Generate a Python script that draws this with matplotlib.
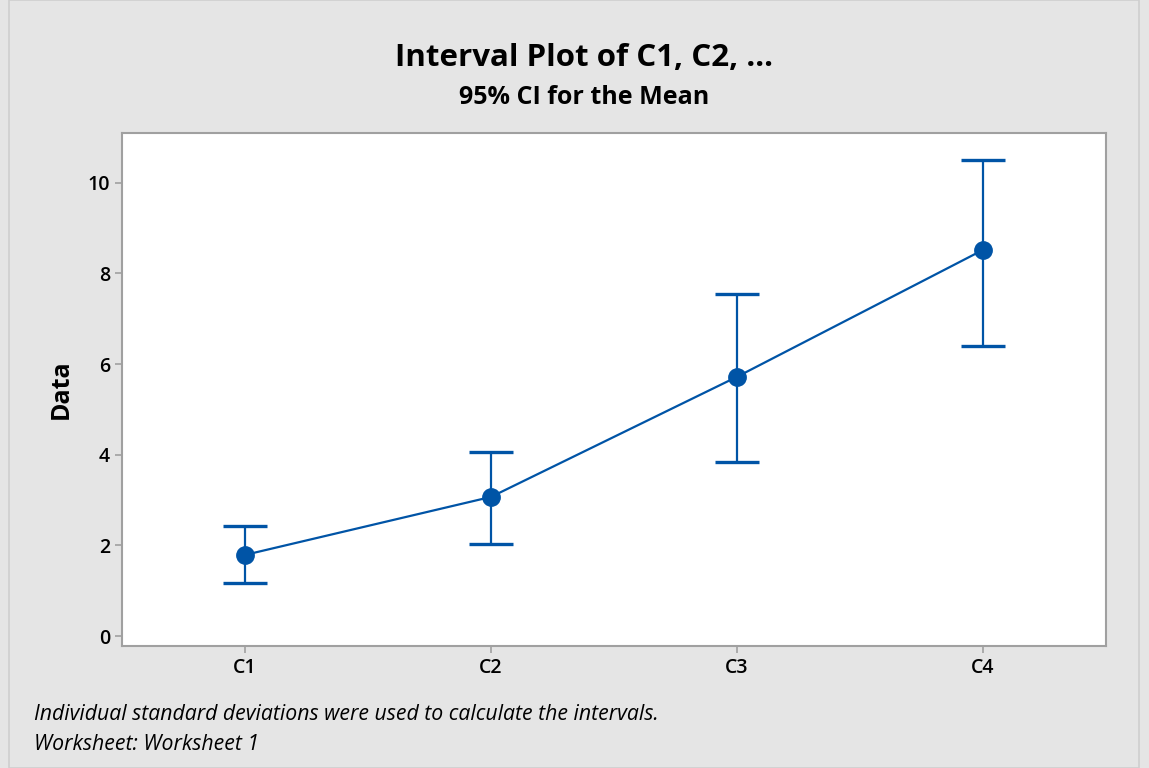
import numpy as np
import matplotlib.pyplot as plt
from matplotlib.patches import Rectangle

# values
labels = ['C1', 'C2', 'C3', 'C4']
means = [1.79, 3.07, 5.72, 8.52]
lower = [1.17, 2.03, 3.84, 6.40]
upper = [2.43, 4.06, 7.55, 10.51]

blue = '#0054A6'
gray = '#A0A0A0'

plt.rcParams['font.family'] = ['Open Sans', 'DejaVu Sans']

fig = plt.figure(figsize=(11.49, 7.68), dpi=100, facecolor='#E5E5E5')
fig.patches.append(Rectangle((9 / 1149, 0), (1139 - 9) / 1149, 1, transform=fig.transFigure,
                             fill=False, edgecolor='#CFCFCF', linewidth=1.2))

ax = fig.add_axes([122 / 1149, 1 - 646 / 768, (1106 - 122) / 1149, (646 - 133) / 768])
x = np.arange(len(labels))
m = np.array(means)
err = [m - np.array(lower), np.array(upper) - m]
ax.errorbar(x, m, yerr=err, color=blue, lw=1.6, marker='o', ms=12.5,
            capsize=16, capthick=2.4, elinewidth=1.6)

ax.set_xlim(-0.5, 3.5)
ax.set_ylim(-0.22, 11.1)
ax.set_xticks(x)
ax.set_xticklabels(labels)
ax.set_yticks([0, 2, 4, 6, 8, 10])
ax.tick_params(colors=gray, labelcolor='black', labelsize=14, length=5, width=1.2, direction='out')
for lbl in ax.get_xticklabels() + ax.get_yticklabels():
    lbl.set_fontweight('semibold')
for s in ax.spines.values():
    s.set_color(gray)
    s.set_linewidth(1.5)
ax.set_ylabel('Data', fontsize=18, fontweight='bold', labelpad=10)

fig.text(584 / 1149, 1 - 58 / 768, 'Interval Plot of C1, C2, ...', ha='center', va='center',
         fontsize=22.5, fontweight='bold')
fig.text(584 / 1149, 1 - 98 / 768, '95% CI for the Mean', ha='center', va='center',
         fontsize=18, fontweight='bold')
fig.text(34 / 1149, 1 - 714 / 768, 'Individual standard deviations were used to calculate the intervals.',
         ha='left', va='center', fontsize=15.3, style='italic')
fig.text(34 / 1149, 1 - 744 / 768, 'Worksheet: Worksheet 1', ha='left', va='center',
         fontsize=15.3, style='italic')

fig.savefig('out.png', dpi=100, facecolor=fig.get_facecolor())
